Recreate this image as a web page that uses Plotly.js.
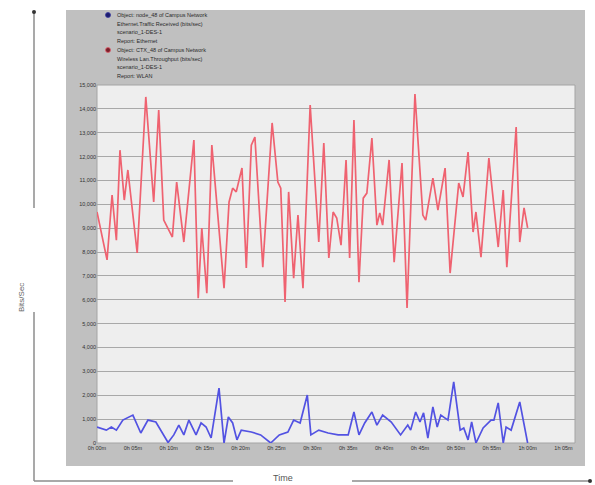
<!DOCTYPE html>
<html>
<head>
<meta charset="utf-8">
<script src="https://cdn.plot.ly/plotly-3.0.1.min.js"></script>
<style>
  html, body { margin: 0; padding: 0; background: #ffffff; }
  #chart { width: 595px; height: 485px; }
</style>
</head>
<body>
<div id="chart"></div>
<script>
// Wireless LAN throughput (minutes since start, bits/sec)
const wlanTime = [0, 1.4, 2.1, 2.7, 3.2, 3.8, 4.3, 5.6, 6.8, 7.9, 8.6, 9.3, 10.5, 11.1, 12.1, 13.5,
  14.1, 14.6, 15.3, 16.0, 17.7, 18.4, 18.9, 19.4, 20.2, 20.8, 21.5, 22.0, 23.1, 24.4, 25.2, 25.6,
  26.2, 26.7, 27.4, 28.0, 28.7, 29.7, 30.9, 31.6, 32.3, 32.9, 33.4, 34.0, 34.7, 35.2, 35.8, 36.5,
  37.1, 37.6, 38.3, 39.0, 39.4, 39.8, 40.7, 41.4, 42.5, 43.2, 44.3, 45.4, 45.8, 46.8, 47.5, 48.5,
  49.2, 50.4, 51.0, 51.7, 52.4, 52.8, 53.5, 54.6, 55.9, 56.6, 57.1, 58.4, 58.9, 59.5, 60.0];
const wlanValue = [9680, 7670, 10390, 8500, 12270, 10180, 11440, 7960, 14500, 10100, 13950, 9340,
  8630, 10930, 8420, 12690, 6070, 9010, 6280, 12480, 6490, 10100, 10680, 10520, 11520, 7330,
  12480, 12820, 7370, 13410, 10930, 10680, 5910, 10520, 6910, 9550, 6490, 14160, 8420, 12570,
  7750, 9680, 9430, 8290, 11860, 7750, 13530, 6740, 10260, 10470, 12780, 9130, 9640, 9130,
  11860, 7580, 11730, 5660, 14620, 9550, 9340, 11100, 9760, 11520, 7120, 10890, 10310, 12190,
  8840, 9680, 7790, 11940, 8210, 10600, 7370, 13240, 8420, 9850, 9010];

// Ethernet traffic received (minutes since start, bits/sec)
const ethTime = [0, 1.3, 2.0, 2.7, 3.6, 5.0, 6.1, 7.1, 8.2, 9.9, 10.7, 11.4, 12.1, 12.8, 13.8, 14.5,
  15.2, 15.9, 17.0, 17.7, 18.3, 18.9, 19.5, 20.1, 21.5, 22.8, 24.2, 25.4, 26.6, 27.4, 28.3, 29.3,
  29.8, 30.9, 32.2, 33.6, 35.0, 35.8, 36.5, 37.3, 38.3, 39.0, 39.8, 41.0, 42.3, 43.3, 43.7, 44.4,
  45.0, 45.5, 46.1, 46.8, 47.4, 47.9, 48.9, 49.7, 50.6, 51.1, 51.7, 52.2, 52.8, 53.8, 54.9, 55.3,
  55.9, 56.6, 57.0, 57.7, 58.9, 60.0];
const ethValue = [670, 540, 670, 540, 960, 1170, 420, 960, 880, 20, 340, 750, 340, 960, 340, 840,
  670, 210, 2300, 0, 1090, 840, 130, 540, 460, 340, 0, 340, 460, 960, 840, 2010,
  340, 540, 420, 340, 340, 1300, 340, 840, 1300, 750, 1170, 880, 340, 750, 540, 1300,
  880, 1260, 210, 1510, 670, 1170, 960, 2560, 540, 630, 130, 880, 0, 630, 960, 960,
  1680, 0, 670, 540, 1720, 0];

const yTickValues = [0, 1000, 2000, 3000, 4000, 5000, 6000, 7000, 8000, 9000, 10000, 11000, 12000, 13000, 14000, 15000];
const yTickLabels = ['0', '1,000', '2,000', '3,000', '4,000', '5,000', '6,000', '7,000', '8,000',
  '9,000', '10,000', '11,000', '12,000', '13,000', '14,000', '15,000'];
const xTickValues = [0, 5, 10, 15, 20, 25, 30, 35, 40, 45, 50, 55, 60, 65];
const xTickLabels = ['0h 00m', '0h 05m', '0h 10m', '0h 15m', '0h 20m', '0h 25m', '0h 30m',
  '0h 35m', '0h 40m', '0h 45m', '0h 50m', '0h 55m', '1h 00m', '1h 05m'];

const ethLegend = ['Object: node_48 of Campus Network', 'Ethernet.Traffic Received (bits/sec)',
  'scenario_1-DES-1', 'Report: Ethernet'];
const wlanLegend = ['Object: CTX_48 of Campus Network', 'Wireless Lan.Throughput (bits/sec)',
  'scenario_1-DES-1', 'Report: WLAN'];

// page geometry: plot area sits at x 97..575, y 85..443 of a 595x485 page
const M = { l: 97, r: 20, t: 85, b: 42 };
const W = 595, H = 485;
const PW = W - M.l - M.r, PH = H - M.t - M.b;
const px = X => (X - M.l) / PW;
const py = Y => (H - M.b - Y) / PH;

const traces = [
  {
    x: wlanTime, y: wlanValue, type: 'scatter', mode: 'lines',
    line: { color: '#ef6270', width: 1.7 }, hoverinfo: 'skip'
  },
  {
    x: ethTime, y: ethValue, type: 'scatter', mode: 'lines',
    line: { color: '#5252e2', width: 1.7 }, hoverinfo: 'skip'
  }
];

const grey = '#8c8c8c';
const shapes = [
  // grey report panel
  { type: 'rect', xref: 'paper', yref: 'paper', layer: 'below',
    x0: px(66), x1: px(585), y0: py(466), y1: py(10),
    fillcolor: '#c0c0c0', line: { width: 0 } },
  // light plotting field
  { type: 'rect', xref: 'paper', yref: 'paper', layer: 'below',
    x0: 0, x1: 1, y0: 0, y1: 1,
    fillcolor: '#eeeeee', line: { color: '#a4a4a4', width: 1 } },
  // outer axis guides
  { type: 'line', xref: 'paper', yref: 'paper', x0: px(34), x1: px(34), y0: py(12), y1: py(208),
    line: { color: grey, width: 1.5 } },
  { type: 'line', xref: 'paper', yref: 'paper', x0: px(34), x1: px(34), y0: py(312), y1: py(481),
    line: { color: grey, width: 1.5 } },
  { type: 'line', xref: 'paper', yref: 'paper', x0: px(34), x1: px(233), y0: py(481), y1: py(481),
    line: { color: grey, width: 1.5 } },
  { type: 'line', xref: 'paper', yref: 'paper', x0: px(352), x1: px(590), y0: py(481), y1: py(481),
    line: { color: grey, width: 1.5 } },
  { type: 'circle', xref: 'paper', yref: 'paper', x0: px(32), x1: px(36), y0: py(14), y1: py(10),
    fillcolor: '#333333', line: { width: 0 } },
  { type: 'circle', xref: 'paper', yref: 'paper', x0: px(588), x1: px(592), y0: py(483), y1: py(479),
    fillcolor: '#333333', line: { width: 0 } },
  // legend markers
  { type: 'circle', xref: 'paper', yref: 'paper', x0: px(105.5), x1: px(110.5), y0: py(17.5), y1: py(12.5),
    fillcolor: '#1c1c6e', line: { color: '#3a3aa0', width: 0.8 } },
  { type: 'circle', xref: 'paper', yref: 'paper', x0: px(105.5), x1: px(110.5), y0: py(52.5), y1: py(47.5),
    fillcolor: '#7a1f2a', line: { color: '#e0606c', width: 0.8 } }
];

const annotations = [
  { text: 'Bits/Sec', xref: 'paper', yref: 'paper', x: px(21), y: py(298), textangle: -90,
    xanchor: 'center', yanchor: 'middle',
    showarrow: false, font: { size: 8, color: '#666666' } },
  { text: 'Time', xref: 'paper', yref: 'paper', x: px(283), y: py(478),
    xanchor: 'center', yanchor: 'middle',
    showarrow: false, font: { size: 9, color: '#555555' } }
];
const legendLineY = [[15, 23.5, 32, 40.5], [50, 58.5, 67, 75.5]];
[ethLegend, wlanLegend].forEach((lines, k) => {
  lines.forEach((t, i) => {
    annotations.push({
      text: t, xref: 'paper', yref: 'paper', x: px(115), y: py(legendLineY[k][i]),
      xanchor: 'left', yanchor: 'middle', showarrow: false,
      font: { size: 5.5, color: '#2a2a2a' }
    });
  });
});

const layout = {
  width: W, height: H, autosize: false,
  margin: M,
  paper_bgcolor: '#ffffff',
  plot_bgcolor: 'rgba(0,0,0,0)',
  showlegend: false,
  font: { family: 'Liberation Sans, Arial, sans-serif', color: '#333333' },
  xaxis: {
    range: [0, 66.6], tickmode: 'array', tickvals: xTickValues, ticktext: xTickLabels,
    showgrid: false, zeroline: false, showline: false,
    ticks: '', tickfont: { size: 5.5, color: '#333333' }
  },
  yaxis: {
    range: [0, 15000], tickmode: 'array', tickvals: yTickValues, ticktext: yTickLabels,
    showgrid: true, gridcolor: '#a8a8a8', gridwidth: 1, zeroline: false, showline: false,
    ticks: '', tickfont: { size: 5.5, color: '#333333' }
  },
  shapes: shapes,
  annotations: annotations
};

Plotly.newPlot('chart', traces, layout, { staticPlot: true, displayModeBar: false });
</script>
</body>
</html>
